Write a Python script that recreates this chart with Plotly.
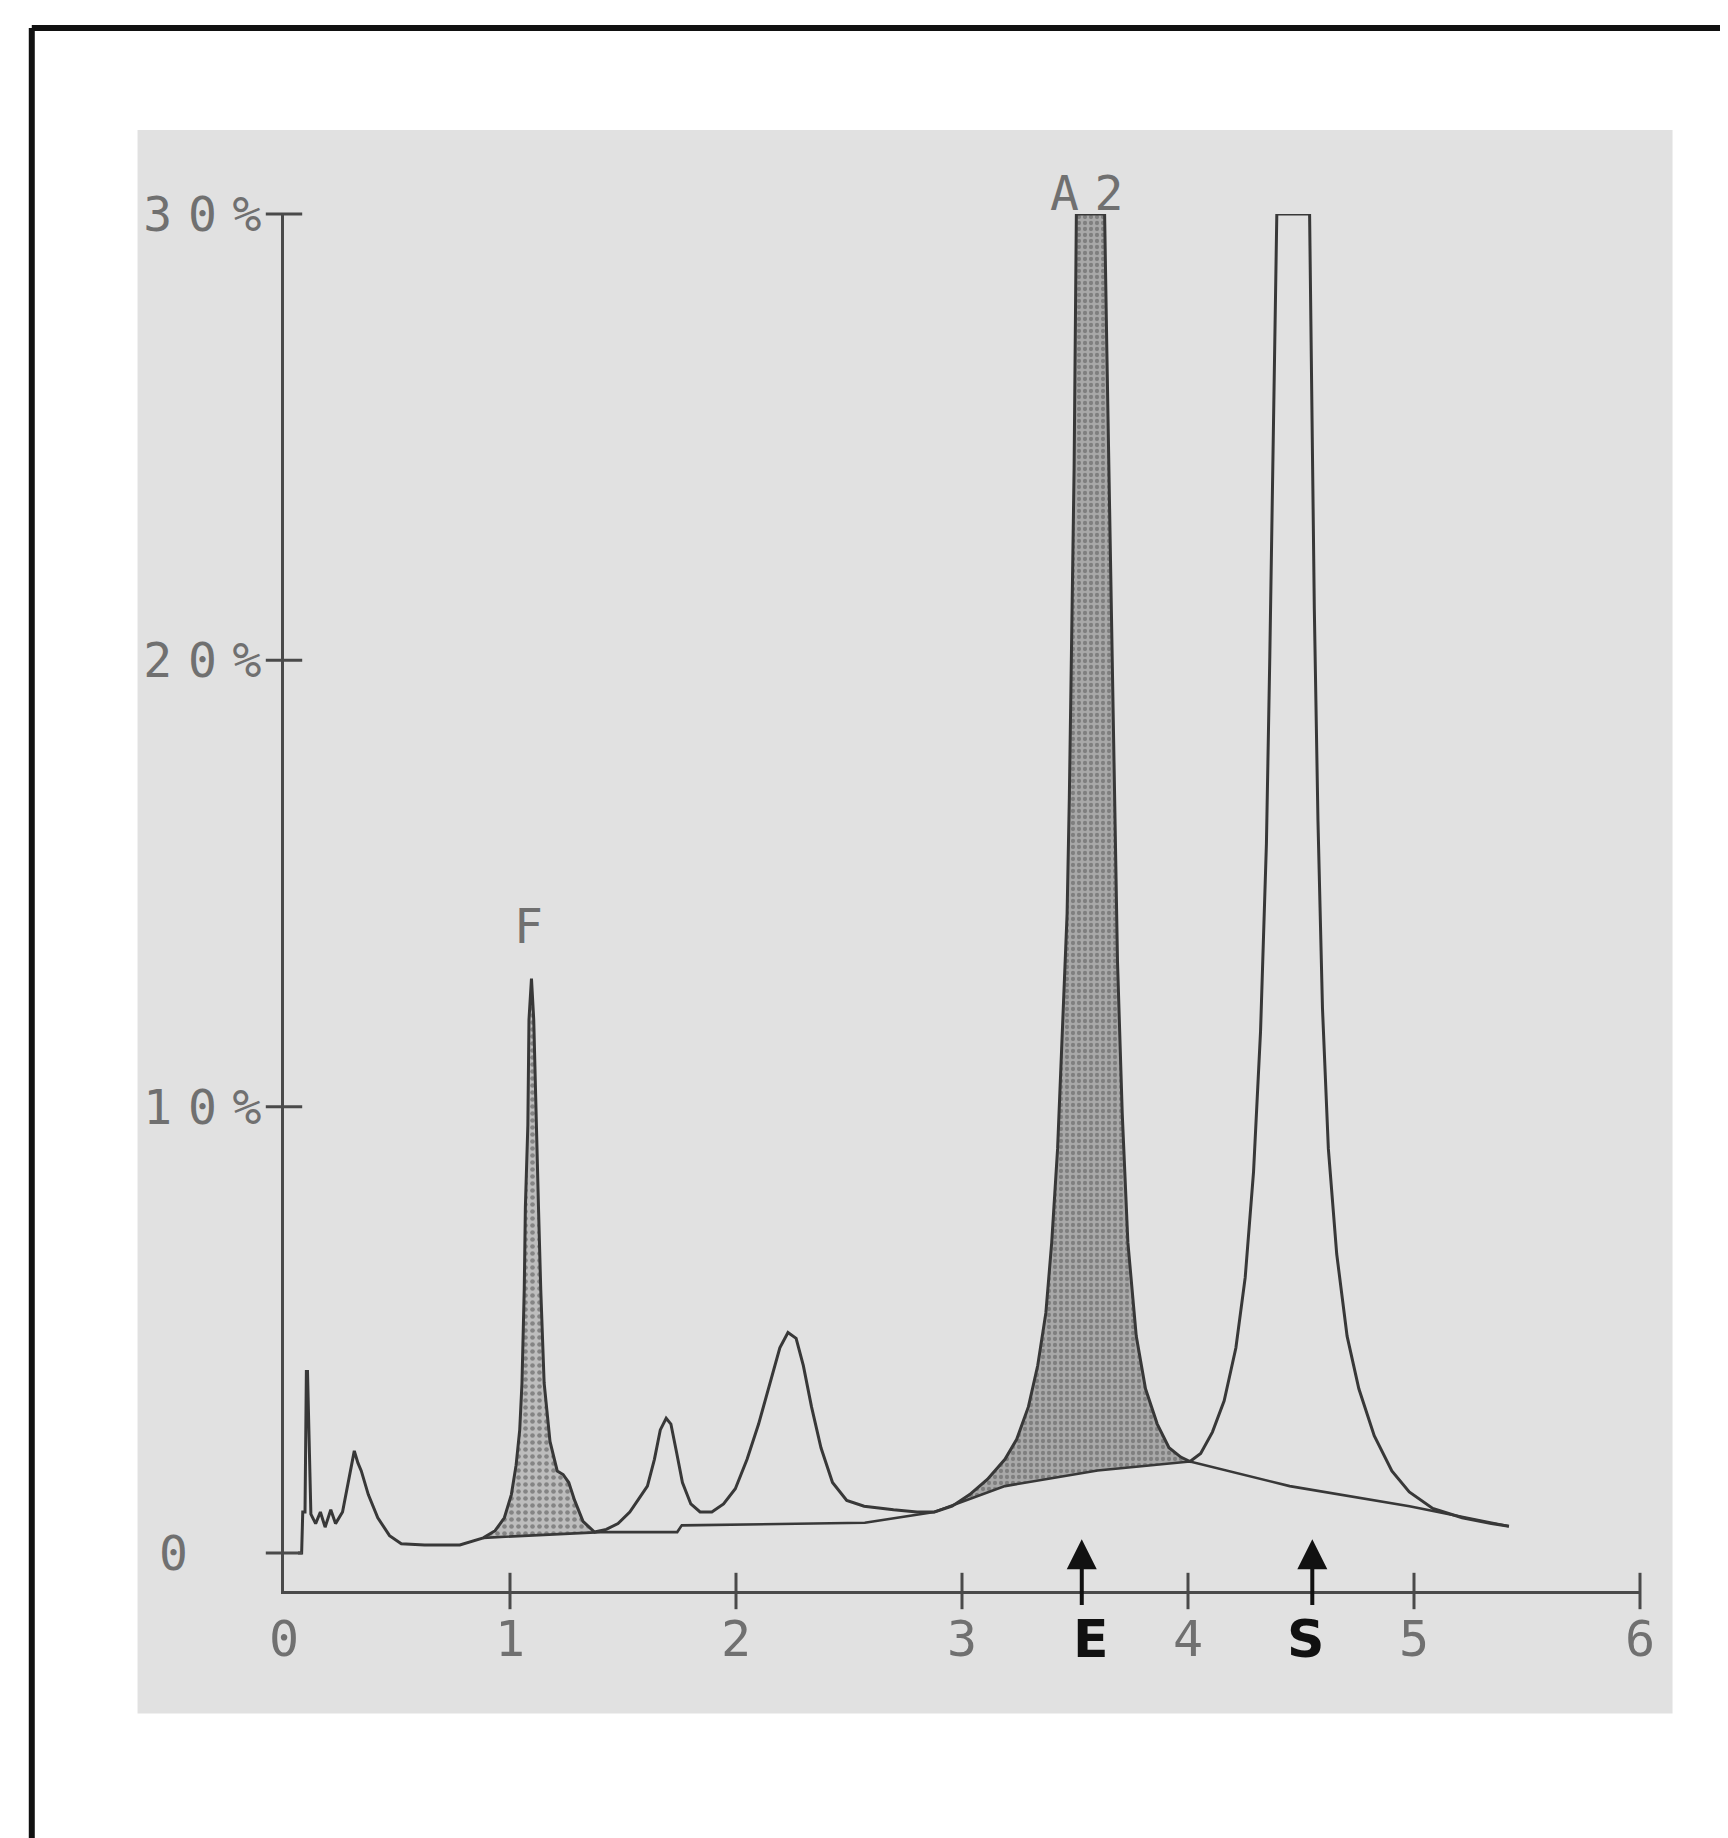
import numpy as np
import plotly.graph_objects as go

# ---------------- data ----------------
time_min = [0.062, 0.078, 0.083, 0.093, 0.099, 0.104, 0.119, 0.140, 0.161, 0.182,
            0.207, 0.228, 0.259, 0.290, 0.311, 0.327, 0.342, 0.373, 0.415, 0.467,
            0.519, 0.622, 0.778, 0.882, 0.934, 0.975, 1.006, 1.027, 1.043, 1.053,
            1.063, 1.068, 1.079, 1.084, 1.095, 1.105, 1.115, 1.126, 1.136, 1.151,
            1.177, 1.209, 1.235, 1.260, 1.286, 1.323, 1.374, 1.426, 1.478, 1.530,
            1.572, 1.608, 1.639, 1.665, 1.691, 1.712, 1.738, 1.763, 1.800, 1.841,
            1.893, 1.945, 1.997, 2.049, 2.100, 2.152, 2.194, 2.230, 2.266, 2.298,
            2.334, 2.376, 2.427, 2.490, 2.567, 2.697, 2.801, 2.878, 2.956, 3.034,
            3.112, 3.190, 3.242, 3.294, 3.335, 3.371, 3.397, 3.423, 3.444, 3.465,
            3.475, 3.485, 3.496, 3.506, 3.631, 3.641, 3.657, 3.672, 3.688, 3.709,
            3.734, 3.771, 3.812, 3.864, 3.916, 3.968, 4.009, 4.056, 4.108, 4.160,
            4.212, 4.253, 4.290, 4.321, 4.347, 4.362, 4.378, 4.393, 4.538, 4.549,
            4.559, 4.575, 4.595, 4.621, 4.658, 4.704, 4.756, 4.824, 4.902, 4.979,
            5.083, 5.213, 5.342, 5.420]
signal_pct = [0.0, 0.0, 0.92, 0.92, 4.07, 4.07, 0.87, 0.66, 0.92, 0.58,
              0.97, 0.66, 0.92, 1.71, 2.29, 2.02, 1.84, 1.31, 0.79, 0.39,
              0.21, 0.18, 0.18, 0.34, 0.50, 0.79, 1.31, 1.97, 2.76, 3.81,
              5.91, 7.75, 9.59, 11.95, 12.87, 11.95, 9.59, 7.75, 5.91, 3.81,
              2.50, 1.84, 1.76, 1.58, 1.18, 0.71, 0.47, 0.53, 0.66, 0.92,
              1.23, 1.50, 2.10, 2.76, 3.02, 2.89, 2.23, 1.58, 1.10, 0.92,
              0.92, 1.10, 1.44, 2.10, 2.89, 3.81, 4.60, 4.94, 4.81, 4.20,
              3.28, 2.36, 1.58, 1.18, 1.05, 0.97, 0.92, 0.92, 1.05, 1.31,
              1.65, 2.10, 2.55, 3.28, 4.20, 5.38, 6.96, 9.06, 11.69, 14.32,
              16.94, 20.36, 24.30, 30.0, 30.0, 26.92, 22.46, 17.99, 13.26, 9.85,
              6.96, 4.86, 3.68, 2.89, 2.36, 2.15, 2.05, 2.23, 2.71, 3.41,
              4.60, 6.17, 8.54, 11.69, 15.89, 20.09, 24.82, 30.0, 30.0, 25.61,
              21.14, 16.42, 12.21, 9.06, 6.70, 4.86, 3.68, 2.63, 1.84, 1.37,
              1.00, 0.79, 0.66, 0.60]

baseline_time = [0.882, 1.374, 1.40, 1.74, 1.76, 2.57, 2.878, 3.19, 3.60, 4.009, 4.45, 4.98, 5.42]
baseline_pct = [0.34, 0.45, 0.47, 0.47, 0.62, 0.68, 0.92, 1.50, 1.85, 2.05, 1.50, 1.05, 0.60]

f_window = [0.882, 1.374]
a2_window = [2.878, 4.009]

x_ticks = [0, 1, 2, 3, 4, 5, 6]
x_tick_labels = ["0", "1", "2", "3", "4", "5", "6"]
y_ticks = [0, 10, 20, 30]
y_tick_labels = ["0", "10%", "20%", "30%"]

peak_names = ["F", "A2"]
peak_label_x = [1.08, 3.55]
peak_label_y = [14.05, 30.47]

marker_names = ["E", "S"]
marker_x = [3.53, 4.55]
marker_label_x = [3.57, 4.52]
marker_label_y = -1.93

# ---------------- figure ----------------
Y_MIN, Y_MAX = -0.85, 30.0
t = np.array(time_min)
s = np.array(signal_pct)
bt = np.array(baseline_time)
bs = np.array(baseline_pct)

LINE = "#383838"
AXIS = "#4a4a4a"
LABEL = "#707070"
MONO = "DejaVu Sans Mono"
GAP = "<span style='font-size:26px'>\u00a0</span>"   # widened dot-matrix spacing


def spaced(txt):
    return GAP.join(txt)


def to_paper_y(v):
    return (v - Y_MIN) / (Y_MAX - Y_MIN)


fig = go.Figure()


def peak_polygon(window):
    m = (t >= window[0]) & (t <= window[1])
    px = t[m]
    py = s[m]
    base = np.interp(px, bt, bs)
    return np.concatenate([px, px[::-1]]), np.concatenate([py, base[::-1]])


fx, fy = peak_polygon(f_window)
fig.add_trace(go.Scatter(x=fx, y=fy, mode="lines", fill="toself", line=dict(width=0),
                         fillcolor="#b8b8b8",
                         fillpattern=dict(shape=".", fgcolor="#4c4c4c", bgcolor="#bdbdbd",
                                          size=7, solidity=0.35),
                         hoverinfo="skip"))
ax_, ay_ = peak_polygon(a2_window)
fig.add_trace(go.Scatter(x=ax_, y=ay_, mode="lines", fill="toself", line=dict(width=0),
                         fillcolor="#a0a0a0",
                         fillpattern=dict(shape=".", fgcolor="#555555", bgcolor="#a8a8a8",
                                          size=6, solidity=0.4),
                         hoverinfo="skip"))

fig.add_trace(go.Scatter(x=bt, y=bs, mode="lines", line=dict(color=LINE, width=2.6)))
fig.add_trace(go.Scatter(x=t, y=s, mode="lines", line=dict(color=LINE, width=3)))

# crossing tick marks
fig.add_trace(go.Scatter(x=x_ticks[1:], y=[Y_MIN] * (len(x_ticks) - 1), mode="markers",
                         marker=dict(symbol="line-ns", size=26, line=dict(color=AXIS, width=3)),
                         cliponaxis=False))
fig.add_trace(go.Scatter(x=[0] * len(y_ticks), y=y_ticks, mode="markers",
                         marker=dict(symbol="line-ew", size=26, line=dict(color=AXIS, width=3)),
                         cliponaxis=False))

annotations = []
for name, x, y in zip(peak_names, peak_label_x, peak_label_y):
    annotations.append(dict(x=x, y=to_paper_y(y), xref="x", yref="paper", text=spaced(name),
                            showarrow=False, yanchor="middle",
                            font=dict(family=MONO, size=48, color=LABEL)))
for name, x, lx in zip(marker_names, marker_x, marker_label_x):
    annotations.append(dict(x=x, y=0.31, xref="x", yref="y", ax=x, ay=-1.2,
                            axref="x", ayref="y", text="", showarrow=True,
                            arrowhead=2, arrowsize=1.5, arrowwidth=4, arrowcolor="#111111"))
    annotations.append(dict(x=lx, y=to_paper_y(marker_label_y), xref="x", yref="paper",
                            text="<b>%s</b>" % name, showarrow=False, yanchor="middle",
                            font=dict(family="DejaVu Sans", size=52, color="#111111")))

shapes = [
    # photographed grey card
    dict(type="rect", xref="paper", yref="paper", x0=-0.108, x1=1.024, y0=-0.089, y1=1.061,
         fillcolor="#e1e1e1", line=dict(width=0), layer="below"),
    # black frame (top and left)
    dict(type="line", xref="paper", yref="paper", x0=-0.186, x1=1.07, y0=1.135, y1=1.135,
         line=dict(color="#111111", width=6)),
    dict(type="line", xref="paper", yref="paper", x0=-0.186, x1=-0.186, y0=1.135, y1=-0.2,
         line=dict(color="#111111", width=6)),
]

fig.update_layout(
    width=1720, height=1830,
    margin=dict(l=276, r=88, t=206, b=247),
    paper_bgcolor="white",
    plot_bgcolor="rgba(0,0,0,0)",
    showlegend=False,
    annotations=annotations,
    shapes=shapes,
)
fig.update_xaxes(range=[0, 6], showgrid=False, zeroline=False, showline=True,
                 linecolor=AXIS, linewidth=3, ticks="",
                 tickvals=x_ticks, ticktext=x_tick_labels, ticklabelstandoff=2,
                 tickfont=dict(family=MONO, size=50, color=LABEL))
fig.update_yaxes(range=[Y_MIN, Y_MAX], showgrid=False, zeroline=False, showline=True,
                 linecolor=AXIS, linewidth=3, ticks="",
                 tickvals=y_ticks,
                 ticktext=[spaced(lbl) if len(lbl) > 1 else lbl + GAP + "\u00a0\u00a0"
                           for lbl in y_tick_labels],
                 ticklabelstandoff=10,
                 tickfont=dict(family=MONO, size=48, color=LABEL))

fig.write_html("out.html")
